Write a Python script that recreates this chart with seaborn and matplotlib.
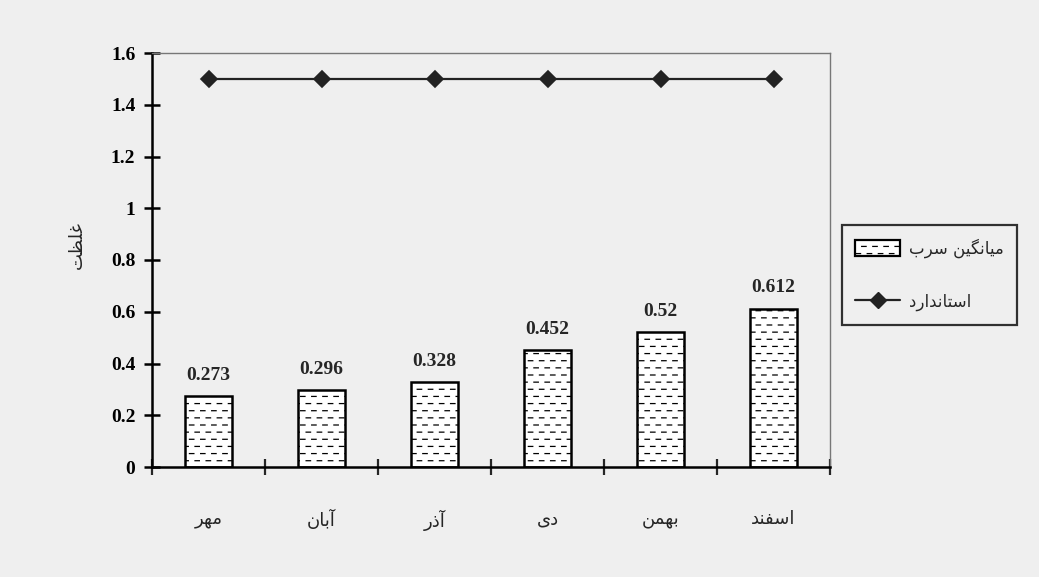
import numpy as np
import matplotlib
matplotlib.use("Agg")
import matplotlib.pyplot as plt
import matplotlib.hatch as mhatch
import matplotlib.patches as mpatches
import matplotlib.lines as mlines
from matplotlib.path import Path
from matplotlib.ticker import FuncFormatter, FixedLocator
import seaborn as sns

# ---- data (Persian text written in shaped, visual-order presentation forms) ----
# logical: مهر, آبان, آذر, دی, بهمن, اسفند
months = ["\uFEAE\uFEEC\uFEE3",
          "\uFEE5\uFE8E\uFE91\uFE81",
          "\uFEAD\uFEAB\uFE81",
          "\uFEEF\uFEA9",
          "\uFEE6\uFEE4\uFEEC\uFE91",
          "\uFEAA\uFEE8\uFED4\uFEB3\uFE8D"]
lead_mean = [0.273, 0.296, 0.328, 0.452, 0.52, 0.612]
standard = [1.5, 1.5, 1.5, 1.5, 1.5, 1.5]
y_label = "\uFE96\uFEC8\uFEE0\uFECF"                 # غلظت
legend_lead = "\uFE8F\uFEAE\uFEB3 \uFEE6\uFEF4\uFB95\uFEE7\uFE8E\uFEF4\uFEE3"  # میانگین سرب
legend_std = "\uFEA9\uFEAD\uFE8D\uFEAA\uFEE7\uFE8E\uFE98\uFEB3\uFE8D"           # استاندارد
y_ticks = [0, 0.2, 0.4, 0.6, 0.8, 1.0, 1.2, 1.4, 1.6]


# ---- custom dashed hatch ----
class DashRows(mhatch.HatchPatternBase):
    def __init__(self, hatch, density):
        self.rows = 14 if '-' in hatch else 0
        self.cols = 9
        self.num_vertices = self.rows * self.cols * 2

    def set_vertices_and_codes(self, vertices, codes):
        k = 0
        for r in range(self.rows):
            y = (r + 0.5) / self.rows
            off = 0.5 / self.cols if r % 2 else 0.0
            for c in range(self.cols):
                x0 = c / self.cols + off + 0.05 / self.cols
                x1 = x0 + 0.4 / self.cols
                vertices[k] = (x0, y)
                vertices[k + 1] = (x1, y)
                codes[k] = Path.MOVETO
                codes[k + 1] = Path.LINETO
                k += 2


mhatch._hatch_types = [DashRows]

sns.set_style("white")
plt.rcParams['font.family'] = ['DejaVu Sans']
plt.rcParams['hatch.linewidth'] = 0.9

bg = "#efefef"
fig = plt.figure(figsize=(10.39, 5.77), dpi=100, facecolor=bg)
ax = fig.add_axes([152 / 1039, 1 - 467 / 577, 678 / 1039, 414 / 577])
ax.set_facecolor(bg)

sns.barplot(x=months, y=lead_mean, ax=ax, color="white", saturation=1,
            edgecolor="black", linewidth=1.8, width=0.41, hatch='-')
sns.pointplot(x=months, y=standard, ax=ax, color="#222222", markers="D",
              linestyles="-", markersize=8, linewidth=1.6)

ax.set_xlim(-0.5, 5.5)
ax.set_ylim(0, 1.6)

serif = dict(family="Liberation Serif", weight="bold", size=14)
ax.bar_label(ax.containers[0], labels=[f"{v:g}" for v in lead_mean],
             padding=9, **serif)

# y axis
ax.yaxis.set_major_locator(FixedLocator(y_ticks))
ax.yaxis.set_major_formatter(FuncFormatter(lambda v, p: f"{v:g}"))
ax.tick_params(axis='y', which='major', direction='inout', length=12, width=1.8,
               left=True, pad=6, colors='black')
for lab in ax.get_yticklabels():
    lab.set_fontproperties(matplotlib.font_manager.FontProperties(**serif))

# x axis: boundary ticks, labels at centres
ax.xaxis.set_major_locator(FixedLocator(np.arange(-0.5, 6.0, 1.0)))
ax.xaxis.set_minor_locator(FixedLocator(np.arange(0, 6)))
ax.set_xticklabels([], minor=False)
ax.set_xticks(np.arange(0, 6), labels=months, minor=True)
ax.tick_params(axis='x', which='major', direction='inout', length=12, width=1.6,
               bottom=True)
ax.tick_params(axis='x', which='minor', length=0, pad=31, labelsize=13)
ax.set_xlabel("")

ax.set_ylabel(y_label, fontsize=13)
ax.yaxis.set_label_coords(-0.097, 0.536)

for s in ['left', 'bottom']:
    ax.spines[s].set_color('black')
    ax.spines[s].set_linewidth(1.8)
for s in ['top', 'right']:
    ax.spines[s].set_visible(True)
    ax.spines[s].set_color('#777777')
    ax.spines[s].set_linewidth(1.0)

# legend
h1 = mpatches.Patch(facecolor='white', edgecolor='black', hatch='-', linewidth=1.6)
h2 = mlines.Line2D([], [], color='#222222', marker='D', markersize=8, linewidth=1.6)
leg = fig.legend([h1, h2], [legend_lead, legend_std],
                 loc='center left', bbox_to_anchor=(842 / 1039, 1 - 275 / 577),
                 bbox_transform=fig.transFigure, fontsize=12, frameon=True,
                 fancybox=False, edgecolor='black', facecolor=bg,
                 handlelength=2.7, handleheight=1.05, labelspacing=2.1,
                 borderpad=0.8, handletextpad=0.5, borderaxespad=0)
leg.get_frame().set_linewidth(1.6)

fig.savefig("out.png", dpi=100, facecolor=bg)
